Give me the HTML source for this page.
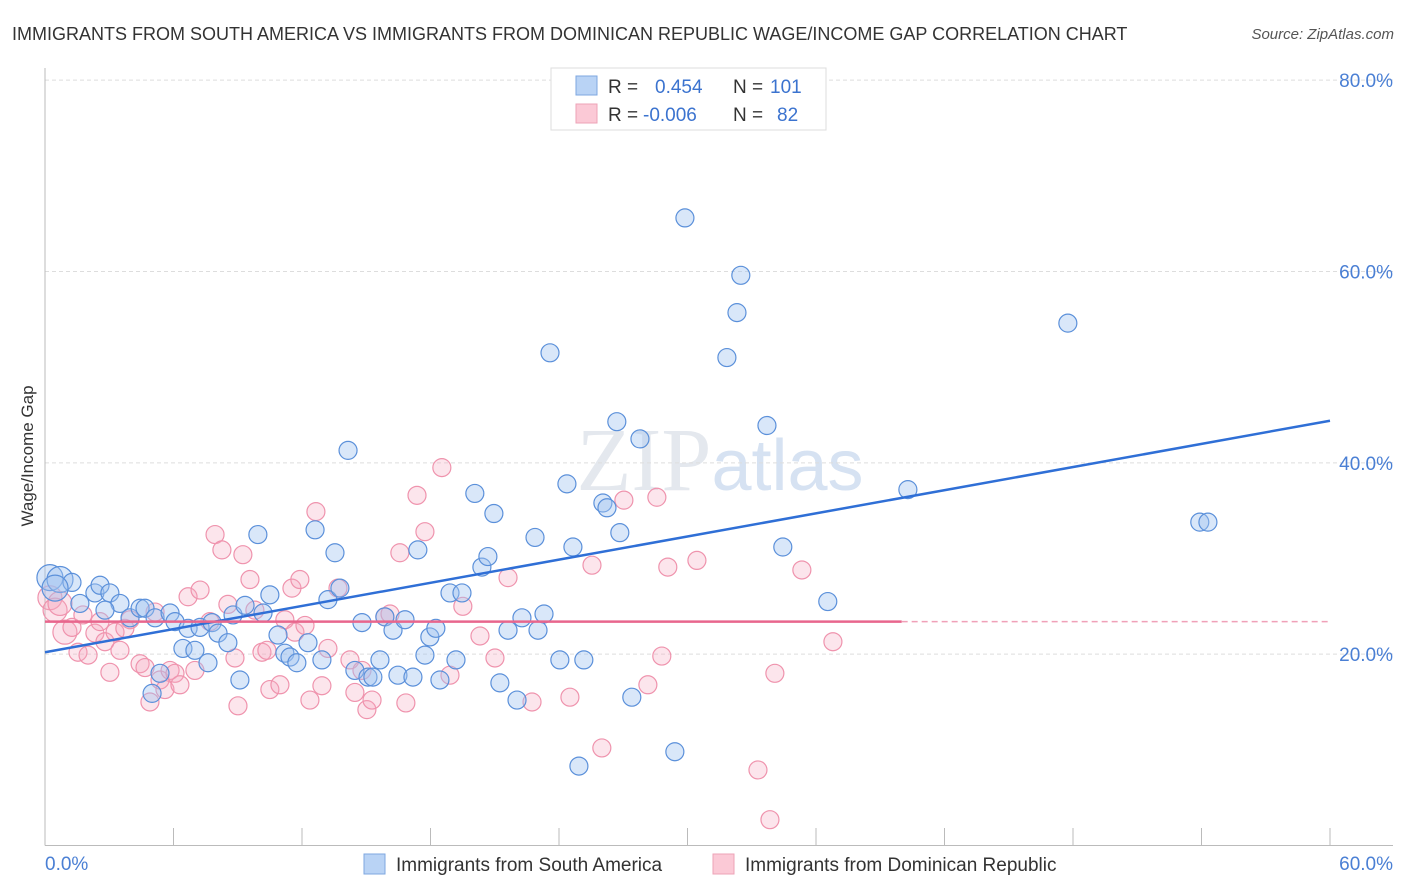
<!DOCTYPE html>
<html><head><meta charset="utf-8"><style>
body{margin:0;background:#fff;font-family:"Liberation Sans",sans-serif}
svg{display:block}
</style></head><body>
<svg id="chart" width="1406" height="892" xmlns="http://www.w3.org/2000/svg" font-family="Liberation Sans, sans-serif">
<text x="12" y="40" font-size="18" fill="#333">IMMIGRANTS FROM SOUTH AMERICA VS IMMIGRANTS FROM DOMINICAN REPUBLIC WAGE/INCOME GAP CORRELATION CHART</text>
<text x="1394" y="39" font-size="15" fill="#555" font-style="italic" text-anchor="end">Source: ZipAtlas.com</text>
<text x="720" y="490" font-size="90" fill="#e4e8ee" text-anchor="middle" font-family="Liberation Serif, serif">ZIP<tspan fill="#d6e2f2" font-family="Liberation Sans, sans-serif" font-size="72">atlas</tspan></text>
<g id="grid"></g>
<g id="axes"></g>
<g id="points"></g>
<g id="lines"></g>
<text transform="translate(33,456) rotate(-90)" font-size="17" fill="#333" text-anchor="middle">Wage/Income Gap</text>
<g>
<rect x="551" y="68" width="275" height="62" fill="#fff" stroke="#ddd"/>
<rect x="576" y="76" width="21" height="19" fill="#b9d3f5" stroke="#7ea7e0"/>
<rect x="576" y="104" width="21" height="19" fill="#fbc9d6" stroke="#eea3b7"/>
<text x="608" y="93" font-size="19" fill="#333">R = <tspan fill="#3b73cf" x="655">0.454</tspan><tspan fill="#333" x="733">N = </tspan><tspan fill="#3b73cf" x="770">101</tspan></text>
<text x="608" y="121" font-size="19" fill="#333">R = <tspan fill="#3b73cf" x="643">-0.006</tspan><tspan fill="#333" x="733">N = </tspan><tspan fill="#3b73cf" x="777">82</tspan></text>
</g>
<g>
<rect x="364" y="854" width="21" height="20" fill="#b9d3f5" stroke="#7ea7e0"/>
<text x="396" y="871" font-size="19" fill="#333">Immigrants from South America</text>
<rect x="713" y="854" width="21" height="20" fill="#fbc9d6" stroke="#eea3b7"/>
<text x="745" y="871" font-size="19" fill="#333">Immigrants from Dominican Republic</text>
</g>
</svg>
<script>
const blueX=[0.23,0.70,1.26,0.47,1.63,2.33,2.57,3.03,3.50,2.80,3.97,4.44,4.67,5.14,5.00,5.37,5.84,6.07,6.44,6.68,7.00,7.24,7.61,7.80,8.08,8.54,8.78,9.10,9.34,9.94,10.18,10.50,10.88,11.20,11.44,11.76,12.28,12.61,12.93,13.21,13.54,13.77,14.15,14.47,14.80,15.08,15.31,15.64,15.87,16.25,16.48,16.81,17.18,17.41,17.74,17.97,18.25,18.44,18.91,19.19,19.47,20.07,20.40,20.68,20.96,21.24,21.62,22.04,22.27,22.88,23.02,23.30,23.58,24.04,24.37,24.65,24.93,25.16,26.05,26.24,26.70,26.84,27.40,27.78,29.41,29.88,31.84,32.31,32.49,33.71,34.45,36.55,40.29,47.76,53.92,54.30];
const blueY=[28.0,27.8,27.5,26.9,25.3,26.4,27.2,26.4,25.3,24.6,23.8,24.8,24.8,23.8,15.9,18.0,24.3,23.4,20.6,22.7,20.4,22.8,19.1,23.3,22.2,21.2,24.1,17.3,25.1,32.5,24.3,26.2,22.0,20.1,19.7,19.1,21.2,33.0,19.4,25.7,30.6,26.9,41.3,18.3,23.3,17.6,17.6,19.4,23.9,22.5,17.8,23.6,17.6,30.9,19.9,21.8,22.7,17.3,26.4,19.4,26.4,36.8,29.1,30.2,34.7,17.0,22.5,15.2,23.8,32.2,22.5,24.2,51.5,19.4,37.8,31.2,8.3,19.4,35.8,35.3,44.3,32.7,15.5,42.5,9.8,65.6,51.0,55.7,59.6,43.9,31.2,25.5,37.2,54.6,33.8,33.8];
const pinkX=[0.23,0.47,0.70,0.93,1.26,1.54,1.77,2.01,2.33,2.57,2.80,3.03,3.27,3.50,3.73,3.97,4.44,4.67,4.90,5.14,5.37,5.60,5.84,6.07,6.30,6.68,7.00,7.24,7.70,7.94,8.26,8.54,8.87,9.01,9.24,9.57,9.80,10.13,10.36,10.50,10.97,11.20,11.53,11.67,11.90,12.14,12.37,12.65,12.93,13.21,13.68,14.24,14.47,14.80,15.03,15.27,15.87,16.11,16.57,16.85,17.37,17.74,18.53,18.91,19.51,20.31,21.01,21.62,22.74,24.51,25.54,26.00,27.03,28.15,28.57,28.80,29.08,30.44,33.29,33.85,34.08,35.34,36.79];
const pinkY=[25.9,24.6,25.3,22.3,22.8,20.2,24.1,19.9,22.2,23.4,21.3,18.1,22.3,20.4,22.7,23.6,19.0,18.6,15.0,24.4,17.3,16.3,18.3,18.0,16.8,26.0,18.3,26.7,23.4,32.5,30.9,25.2,19.6,14.6,30.4,27.8,24.6,20.2,20.4,16.3,16.8,23.6,26.9,22.3,27.8,23.0,15.2,34.9,16.7,20.6,26.9,19.4,16.0,18.3,14.2,15.2,23.9,24.2,30.6,14.9,36.6,32.8,39.5,17.8,25.0,21.9,19.6,28.0,15.0,15.5,29.3,10.2,36.1,16.8,36.4,19.8,29.1,29.8,7.9,2.7,18.0,28.8,21.3];
const yTicks=[20,40,60,80];
const yTickLabels=["20.0%","40.0%","60.0%","80.0%"];
const xTicks=[0,6,12,18,24,30,36,42,48,54,60];
const blueTrend=[20.2,44.4];
const pinkTrend=[23.4,23.4];
const pinkTrendEnd=40;

const NS="http://www.w3.org/2000/svg";
const X0=45,X1=1330,Y0=845.5;
const sx=v=>X0+v*(X1-X0)/60;
const sy=v=>Y0-v*9.567;
function mk(tag,attrs,parent){const e=document.createElementNS(NS,tag);for(const k in attrs)e.setAttribute(k,attrs[k]);document.getElementById(parent).appendChild(e);return e;}

yTicks.forEach((t,i)=>{
  const g=mk('line',{x1:X0,x2:1393,y1:sy(t),y2:sy(t),stroke:'#ddd','stroke-dasharray':'4,3'},'grid');
  
  
  const l=mk('text',{x:1393,y:sy(t)+7,'font-size':19,fill:'#4a7fd4','text-anchor':'end'},'grid');
  l.textContent=yTickLabels[i];
  
  
});
const ya=mk('line',{x1:X0,x2:X0,y1:68,y2:Y0,stroke:'#bbb'},'axes');


const xa=mk('line',{x1:X0,x2:1393,y1:Y0,y2:Y0,stroke:'#bbb'},'axes');


xTicks.forEach(t=>{
  const k=mk('line',{x1:sx(t),x2:sx(t),y1:828,y2:Y0,stroke:'#bbb'},'axes');
  
  
});
const xl0=mk('text',{x:X0,y:870,'font-size':19,fill:'#4a7fd4'},'axes');xl0.textContent='0.0%';


const xl1=mk('text',{x:1393,y:870,'font-size':19,fill:'#4a7fd4','text-anchor':'end'},'axes');xl1.textContent='60.0%';



pinkX.forEach((v,i)=>{
  const c=mk('circle',{cx:sx(v),cy:sy(pinkY[i]),r:v<1?12:9,fill:'rgba(246,170,192,0.3)',stroke:'#ef93ad','stroke-width':1.2},'points');
  
  
});
blueX.forEach((v,i)=>{
  const c=mk('circle',{cx:sx(v),cy:sy(blueY[i]),r:v<1?13:9,fill:'rgba(160,196,240,0.4)',stroke:'#5b90da','stroke-width':1.2},'points');
  
  
});
const bl=mk('line',{x1:sx(0),y1:sy(blueTrend[0]),x2:sx(60),y2:sy(blueTrend[1]),stroke:'#2f6fd6','stroke-width':2.5},'lines');


const pl=mk('line',{x1:sx(0),y1:sy(pinkTrend[0]),x2:sx(pinkTrendEnd),y2:sy(pinkTrend[0]+(pinkTrend[1]-pinkTrend[0])*pinkTrendEnd/60),stroke:'#e8668d','stroke-width':2.5},'lines');


const pd=mk('line',{x1:sx(pinkTrendEnd),y1:sy(pinkTrend[0]),x2:sx(60),y2:sy(pinkTrend[1]),stroke:'#f0a0b8','stroke-width':1.5,'stroke-dasharray':'6,4'},'lines');


</script>
</body></html>
